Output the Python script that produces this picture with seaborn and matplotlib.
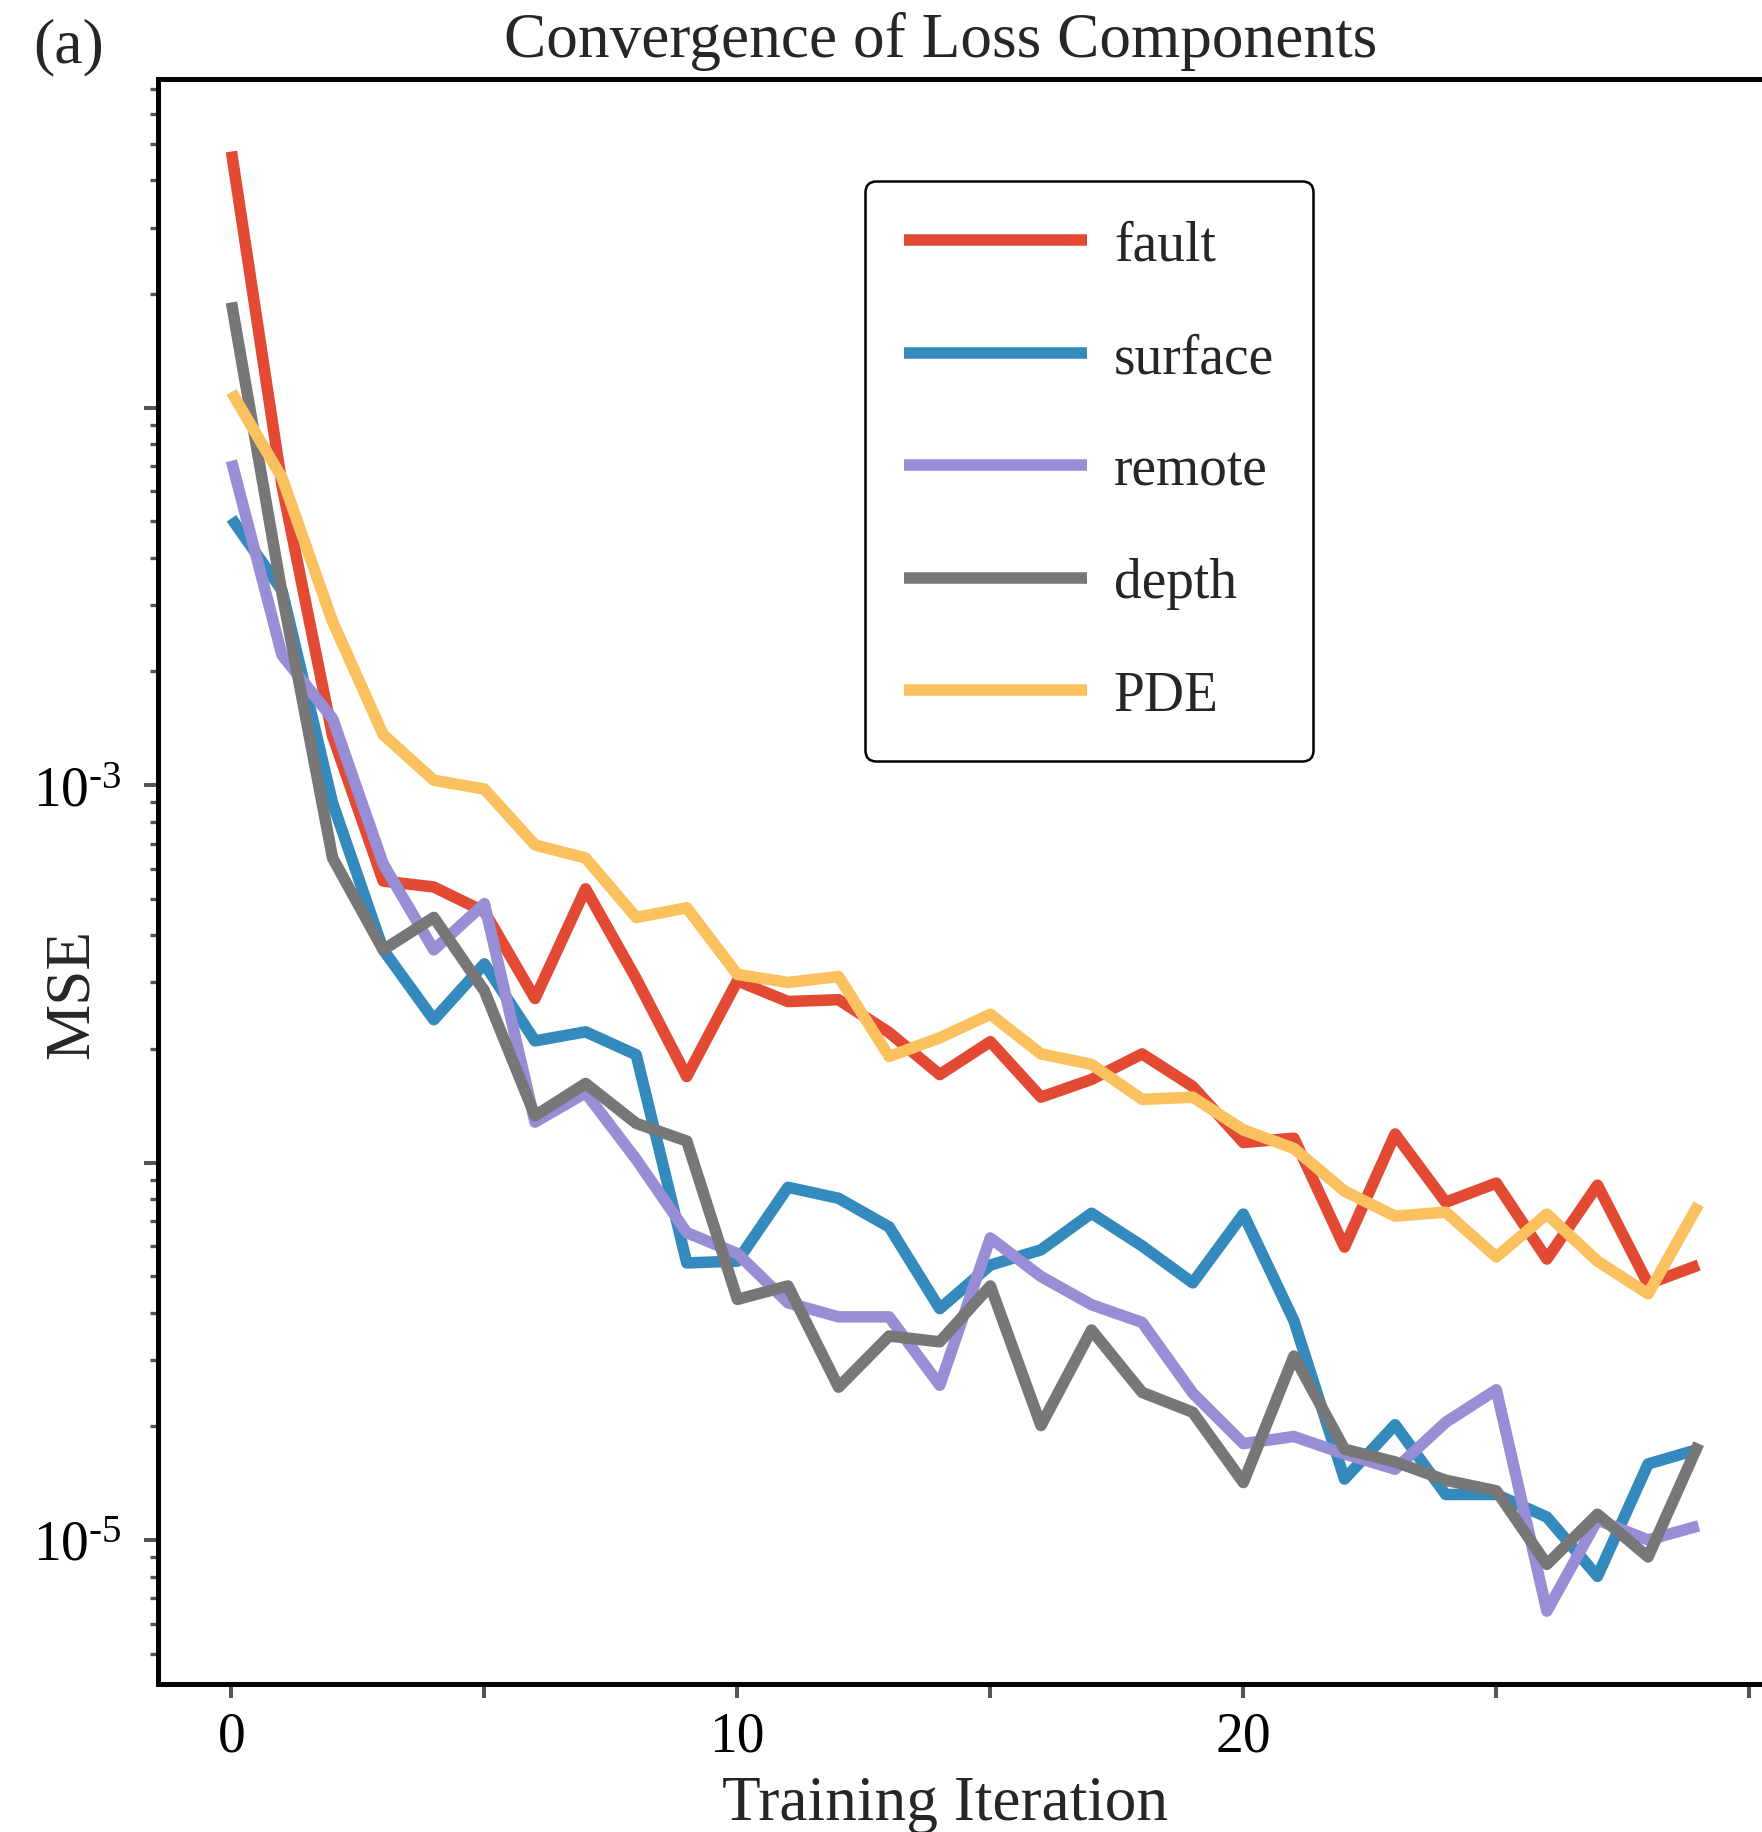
import matplotlib
matplotlib.use("Agg")
import matplotlib.pyplot as plt
import numpy as np
import pandas as pd
import seaborn as sns
from matplotlib.ticker import FixedLocator, FixedFormatter, LogLocator, NullFormatter

# ---- data: MSE of each loss term per training iteration ----
iterations = list(range(30))

fault = [4.77e-2, 6.21e-3, 1.35e-3, 5.57e-4, 5.37e-4, 4.62e-4, 2.72e-4, 5.31e-4, 3.07e-4, 1.69e-4,
         3.03e-4, 2.67e-4, 2.70e-4, 2.21e-4, 1.71e-4, 2.09e-4, 1.49e-4, 1.66e-4, 1.94e-4, 1.59e-4,
         1.13e-4, 1.16e-4, 5.97e-5, 1.19e-4, 7.85e-5, 8.82e-5, 5.55e-5, 8.71e-5, 4.77e-5, 5.35e-5]

surface = [5.09e-3, 3.28e-3, 8.96e-4, 3.66e-4, 2.39e-4, 3.36e-4, 2.10e-4, 2.22e-4, 1.93e-4, 5.42e-5,
           5.48e-5, 8.60e-5, 8.04e-5, 6.75e-5, 4.10e-5, 5.35e-5, 5.87e-5, 7.34e-5, 6.01e-5, 4.80e-5,
           7.30e-5, 3.81e-5, 1.45e-5, 2.02e-5, 1.32e-5, 1.32e-5, 1.15e-5, 8.01e-6, 1.59e-5, 1.74e-5]

remote = [7.23e-3, 2.21e-3, 1.50e-3, 6.18e-4, 3.66e-4, 4.85e-4, 1.28e-4, 1.53e-4, 1.02e-4, 6.52e-5,
          5.74e-5, 4.25e-5, 3.90e-5, 3.90e-5, 2.57e-5, 6.31e-5, 4.99e-5, 4.20e-5, 3.77e-5, 2.45e-5,
          1.80e-5, 1.88e-5, 1.69e-5, 1.54e-5, 2.05e-5, 2.50e-5, 6.48e-6, 1.13e-5, 1.00e-5, 1.09e-5]

depth = [1.90e-2, 3.22e-3, 6.41e-4, 3.66e-4, 4.46e-4, 2.85e-4, 1.33e-4, 1.62e-4, 1.27e-4, 1.14e-4,
         4.34e-5, 4.71e-5, 2.54e-5, 3.47e-5, 3.35e-5, 4.71e-5, 2.01e-5, 3.60e-5, 2.46e-5, 2.18e-5,
         1.42e-5, 3.07e-5, 1.74e-5, 1.61e-5, 1.44e-5, 1.35e-5, 8.62e-6, 1.17e-5, 9.02e-6, 1.80e-5]

pde = [1.10e-2, 6.52e-3, 2.71e-3, 1.36e-3, 1.03e-3, 9.76e-4, 6.94e-4, 6.41e-4, 4.46e-4, 4.73e-4,
       3.15e-4, 3.00e-4, 3.11e-4, 1.91e-4, 2.14e-4, 2.47e-4, 1.94e-4, 1.82e-4, 1.47e-4, 1.49e-4,
       1.22e-4, 1.09e-4, 8.40e-5, 7.21e-5, 7.39e-5, 5.62e-5, 7.30e-5, 5.48e-5, 4.49e-5, 7.76e-5]

components = ["fault", "surface", "remote", "depth", "PDE"]
colors = ["#E24A33", "#348ABD", "#988ED5", "#777777", "#FBC15E"]

x_ticks = [0, 5, 10, 15, 20, 25, 30]
x_tick_labels = ["0", "", "10", "", "20", "", ""]
y_ticks = [1e-5, 1e-4, 1e-3, 1e-2, 1e-1]
y_tick_labels = [r"$\mathregular{10^{\text{-5}}}$", "", r"$\mathregular{10^{\text{-3}}}$", "", ""]

df = pd.DataFrame({
    "Training Iteration": iterations * len(components),
    "MSE": fault + surface + remote + depth + pde,
    "component": [c for c in components for _ in iterations],
})

# ---- style ----
sns.set_theme(style="ticks")
plt.rcParams["font.family"] = ["Liberation Serif", "DejaVu Serif"]
plt.rcParams["mathtext.fontset"] = "custom"
plt.rcParams["mathtext.rm"] = "Liberation Serif"
plt.rcParams["mathtext.it"] = "Liberation Serif:italic"
plt.rcParams["mathtext.bf"] = "Liberation Serif:bold"

fig = plt.figure(figsize=(17.62, 18.33), dpi=100)
ax = fig.add_axes([0.0897, 0.0807, 0.916, 0.8759])
ax.set_yscale("log")

sns.lineplot(data=df, x="Training Iteration", y="MSE", hue="component",
             hue_order=components, palette=dict(zip(components, colors)),
             estimator=None, sort=False, linewidth=8.3, ax=ax)
for ln in ax.get_lines():
    ln.set_solid_capstyle("butt")
    ln.set_solid_joinstyle("round")

# ---- axes ----
for side, sp in ax.spines.items():
    sp.set_linewidth(3.6)
    sp.set_color("black")

ax.xaxis.set_major_locator(FixedLocator(x_ticks))
ax.xaxis.set_major_formatter(FixedFormatter(x_tick_labels))
ax.yaxis.set_major_locator(FixedLocator(y_ticks))
ax.yaxis.set_major_formatter(FixedFormatter(y_tick_labels))
ax.yaxis.set_minor_locator(LogLocator(base=10, subs=np.arange(2, 10), numticks=50))
ax.yaxis.set_minor_formatter(NullFormatter())

ax.tick_params(which="major", length=10, width=2.9, color="#555555",
               labelsize=40, labelcolor="black", direction="out")
ax.tick_params(which="minor", length=5.8, width=2.4, color="#555555", direction="out")
ax.tick_params(axis="x", which="major", pad=9)
ax.tick_params(axis="y", which="major", pad=16)

ax.set_xlabel("Training Iteration", fontsize=45.5)
ax.set_ylabel("MSE", fontsize=45.5)
ax.xaxis.set_label_coords(0.4876, -0.0565)
ax.yaxis.set_label_coords(-0.035, 0.4304)

ax.set_title("Convergence of Loss Components", fontsize=45.5, x=0.485, y=1.014, pad=0)
fig.text(0.0187, 0.9662, "(a)", fontsize=46, ha="left", va="baseline")

handles, labels = ax.get_legend_handles_labels()
leg = ax.legend(handles, labels, loc="upper left", bbox_to_anchor=(0.4909, 0.9009),
                bbox_transform=fig.transFigure, fontsize=40, frameon=True,
                fancybox=True, framealpha=1, edgecolor="black",
                handlelength=3.3, handletextpad=0.48, borderpad=0.7,
                labelspacing=1.09, borderaxespad=0)
leg.get_frame().set_linewidth(1.8)
for h in leg.get_lines():
    h.set_linewidth(8.3)
    h.set_solid_capstyle("butt")

fig.savefig("out.png", dpi=100, facecolor="white")
